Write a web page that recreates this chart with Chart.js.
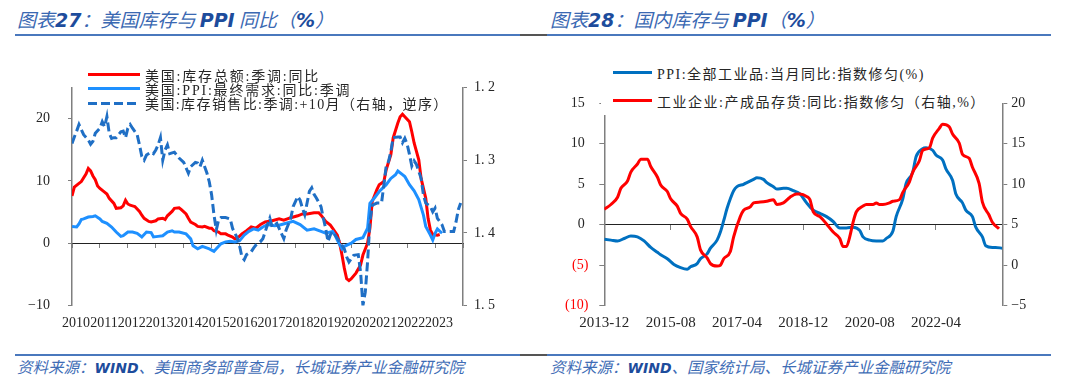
<!DOCTYPE html>
<html><head><meta charset="utf-8">
<script src="https://cdn.jsdelivr.net/npm/chart.js@4.4.0/dist/chart.umd.min.js"></script>
<style>
body{margin:0;width:1080px;height:386px;background:#fff;position:relative;overflow:hidden;font-family:"Noto Sans CJK SC",sans-serif}
.title{position:absolute;top:6px;font-size:19px;font-style:italic;color:#3a68b2;white-space:nowrap;line-height:26px}
.title b{font-family:"DejaVu Sans","Noto Sans CJK SC",sans-serif;font-weight:bold;color:#1d4c9c}
.rule{position:absolute;height:2px}
.foot{position:absolute;top:356px;font-size:15.5px;font-style:italic;color:#3f6db6;white-space:nowrap;line-height:20px}
.foot b{font-family:"DejaVu Sans","Noto Sans CJK SC",sans-serif;font-weight:bold;color:#1d4c9c;font-size:14px}
.leg{position:absolute;display:flex;align-items:center;height:16px;white-space:nowrap;font-family:"Liberation Serif","Noto Sans CJK SC",serif;font-size:14px;color:#262626}
.sw{display:inline-block;height:3px;margin-right:5px;flex:none}
.wrap{position:absolute;top:40px;width:540px;height:300px}
</style></head>
<body>
<div class="title" style="left:17px">图表<b>27</b>：美国库存与 <b>PPI</b> 同比（<b>%</b>）</div>
<div class="title" style="left:550px">图表<b>28</b>：国内库存与 <b>PPI</b>（<b>%</b>）</div>
<div class="rule" style="left:15px;top:34px;width:505px;background:#4a78bd"></div>
<div class="rule" style="left:520px;top:34px;width:27px;background:#555"></div>
<div class="rule" style="left:547px;top:34px;width:504px;background:#4a78bd"></div>

<div class="wrap" style="left:0"><canvas id="c1" width="540" height="300"></canvas></div>
<div class="wrap" style="left:540px"><canvas id="c2" width="540" height="300"></canvas></div>

<div class="leg" style="left:88px;top:66.5px"><span class="sw" style="width:52px;background:#ff0000"></span><span style="letter-spacing:1.8px">美国:库存总额:季调:同比</span></div>
<div class="leg" style="left:88px;top:80.5px"><span class="sw" style="width:52px;background:#1e90ff"></span><span style="letter-spacing:1.8px">美国:PPI:最终需求:同比:季调</span></div>
<div class="leg" style="left:88px;top:95px"><span class="sw" style="width:52px;background:repeating-linear-gradient(90deg,#1f6fc5 0 9px,transparent 9px 13px)"></span><span style="letter-spacing:1.4px">美国:库存销售比:季调:+10月（右轴，逆序）</span></div>

<div style="position:absolute;left:601px;top:58px;width:394px;height:57px;background:#fff"></div>
<div class="leg" style="left:613px;top:64.7px"><span class="sw" style="width:39px;background:#0070c0"></span><span style="letter-spacing:1.5px">PPI:全部工业品:当月同比:指数修匀(%)</span></div>
<div class="leg" style="left:613px;top:92.7px"><span class="sw" style="width:39px;background:#ff0000"></span><span style="letter-spacing:1.5px">工业企业:产成品存货:同比:指数修匀（右轴,%）</span></div>

<div class="rule" style="left:15px;top:354px;width:505px;background:#4a78bd"></div>
<div class="rule" style="left:520px;top:354px;width:27px;background:#555"></div>
<div class="rule" style="left:547px;top:354px;width:504px;background:#4a78bd"></div>
<div class="foot" style="left:17px">资料来源：<b>WIND</b>、美国商务部普查局，长城证券产业金融研究院</div>
<div class="foot" style="left:550px">资料来源：<b>WIND</b>、国家统计局、长城证券产业金融研究院</div>

<script>
// ---------- Chart 27: US inventories vs PPI ----------
const usYearLabels = ['2010','2011','2012','2013','2014','2015','2016','2017','2018','2019','2020','2021','2022','2023'];

const usInvDates = [
 '2010-01','2010-02','2010-04','2010-05','2010-07','2010-08','2010-09','2010-10','2010-11','2010-12',
 '2011-01','2011-03','2011-04','2011-05','2011-07','2011-08','2011-10','2011-11','2011-12','2012-01',
 '2012-02','2012-03','2012-04','2012-06','2012-07','2012-08','2012-10','2012-11','2013-01','2013-02',
 '2013-04','2013-05','2013-06','2013-08','2013-09','2013-11','2013-12','2014-02','2014-03','2014-04',
 '2014-06','2014-07','2014-09','2014-10','2014-12','2015-01','2015-02','2015-04','2015-05','2015-07',
 '2015-08','2015-10','2015-11','2015-12','2016-02','2016-04','2016-06','2016-08','2016-10','2016-12',
 '2017-03','2017-06','2017-08','2017-11','2018-02','2018-04','2018-06','2018-09','2018-11','2018-12',
 '2019-02','2019-04','2019-05','2019-07','2019-08','2019-09','2019-10','2019-11','2019-12','2020-01',
 '2020-03','2020-05','2020-06','2020-08','2020-09','2020-10','2020-12','2021-01','2021-03','2021-04',
 '2021-06','2021-07','2021-09','2021-10','2021-11','2021-12','2022-02','2022-03','2022-04','2022-06',
 '2022-07','2022-09','2022-10','2022-11','2022-12','2023-02','2023-03'];
const usInvYoY = [
 7.6,9.0,9.6,9.9,11.1,12.0,11.6,10.8,10.2,9.2,
 8.8,8.2,7.9,7.2,6.4,5.6,5.7,6.0,6.9,6.3,
 6.1,6.0,5.9,5.1,4.5,4.0,3.5,3.4,3.6,3.9,
 4.0,3.8,4.4,5.1,5.6,5.7,5.4,4.7,4.0,3.4,
 3.0,2.7,2.6,2.7,2.4,2.4,2.0,1.8,1.5,1.5,
 1.3,1.0,0.7,0.8,1.5,2.0,2.6,2.4,3.0,3.4,
 3.6,3.9,3.7,4.1,4.4,4.7,4.7,4.9,4.9,4.5,
 3.5,2.9,2.4,1.3,0.0,-1.9,-4.0,-5.7,-6.0,-5.7,
 -4.8,-3.5,-1.9,0.0,2.4,6.7,8.6,9.4,9.9,11.8,
 14.2,16.9,19.3,20.3,20.7,20.3,19.5,17.9,16.1,13.4,
 10.4,7.2,4.0,2.1,1.4,1.3,1.4];

const usPpiDates = [
 '2010-01','2010-03','2010-04','2010-05','2010-06','2010-08','2010-10','2010-11','2011-01','2011-02',
 '2011-04','2011-06','2011-08','2011-10','2011-11','2012-01','2012-03','2012-05','2012-06','2012-07',
 '2012-09','2012-11','2012-12','2013-02','2013-04','2013-06','2013-08','2013-09','2013-11','2014-02',
 '2014-04','2014-05','2014-07','2014-09','2014-12','2015-02','2015-03','2015-05','2015-07','2015-09',
 '2015-11','2016-01','2016-03','2016-05','2016-07','2016-09','2016-11','2017-01','2017-04','2017-06',
 '2017-09','2017-12','2018-03','2018-06','2018-09','2018-12','2019-02','2019-05','2019-06','2019-07',
 '2019-09','2019-10','2020-01','2020-03','2020-06','2020-08','2020-09','2020-11','2021-01','2021-04',
 '2021-06','2021-08','2021-09','2021-11','2021-12','2022-02','2022-04','2022-06','2022-08','2022-09',
 '2022-11','2022-12','2023-01','2023-02','2023-04'];
const usPpiYoY = [
 2.7,2.6,3.1,3.8,3.9,4.2,4.3,4.4,3.9,3.5,
 3.2,2.6,1.8,1.1,1.2,1.8,1.8,1.6,1.3,1.0,
 1.8,1.7,1.0,1.1,1.2,1.8,2.0,1.8,1.8,1.5,
 0.7,-0.4,-0.9,-0.5,-0.9,-1.3,-0.9,-0.1,0.2,0.3,
 0.2,0.4,1.3,1.9,2.3,2.1,2.6,3.0,2.8,2.9,
 3.2,3.5,3.0,2.1,2.3,1.9,1.6,1.9,1.3,0.5,
 -0.9,-0.5,0.0,0.6,0.9,2.4,6.4,7.3,8.3,9.4,
 10.4,11.0,11.6,11.0,10.7,9.4,8.4,7.0,4.5,2.7,
 1.3,0.5,1.6,2.3,1.6];

const usRatioDates = [
 '2010-01','2010-02','2010-03','2010-04','2010-05','2010-06','2010-08','2010-09','2010-10','2010-11',
 '2011-01','2011-02','2011-03','2011-04','2011-05','2011-06','2011-07','2011-08','2011-10','2011-11',
 '2011-12','2012-01','2012-02','2012-03','2012-05','2012-06','2012-07','2012-08','2012-09','2012-11',
 '2012-12','2013-01','2013-02','2013-03','2013-04','2013-05','2013-06','2013-07','2013-09','2013-10',
 '2013-11','2014-01','2014-03','2014-04','2014-06','2014-07','2014-08','2014-09','2014-10','2014-11',
 '2014-12','2015-01','2015-02','2015-03','2015-04','2015-05','2015-07','2015-09','2015-10','2015-12',
 '2016-01','2016-02','2016-03','2016-04','2016-06','2016-07','2016-08','2016-10','2016-11','2017-01',
 '2017-02','2017-03','2017-05','2017-06','2017-08','2017-09','2017-11','2017-12','2018-02','2018-03',
 '2018-04','2018-05','2018-06','2018-07','2018-08','2018-09','2018-10','2018-12','2019-01','2019-02',
 '2019-03','2019-04','2019-05','2019-06','2019-08','2019-10','2019-11','2019-12','2020-02','2020-04',
 '2020-05','2020-06','2020-07','2020-08','2020-09','2020-10','2020-12','2021-02','2021-03','2021-04',
 '2021-05','2021-06','2021-07','2021-09','2021-10','2021-11','2021-12','2022-01','2022-02','2022-03',
 '2022-04','2022-05','2022-07','2022-08','2022-09','2022-11','2022-12','2023-01','2023-02','2023-04',
 '2023-05','2023-07','2023-09','2023-10','2023-11','2023-12'];
const usRatio = [
 1.277,1.268,1.260,1.251,1.258,1.265,1.272,1.278,1.274,1.263,
 1.256,1.247,1.254,1.240,1.263,1.270,1.269,1.269,1.261,1.260,
 1.269,1.256,1.251,1.256,1.265,1.279,1.295,1.300,1.293,1.289,
 1.291,1.286,1.279,1.269,1.300,1.286,1.279,1.291,1.289,1.293,
 1.297,1.303,1.318,1.309,1.303,1.304,1.309,1.300,1.309,1.318,
 1.330,1.348,1.375,1.396,1.382,1.379,1.379,1.381,1.394,1.407,
 1.418,1.433,1.437,1.430,1.426,1.421,1.417,1.412,1.408,1.389,
 1.380,1.392,1.387,1.394,1.408,1.396,1.380,1.364,1.350,1.355,
 1.366,1.375,1.359,1.343,1.338,1.347,1.352,1.364,1.380,1.394,
 1.412,1.403,1.398,1.403,1.412,1.422,1.433,1.440,1.431,1.430,
 1.454,1.500,1.482,1.440,1.385,1.362,1.359,1.359,1.334,1.308,
 1.302,1.288,1.269,1.268,1.268,1.276,1.270,1.278,1.292,1.308,
 1.301,1.306,1.325,1.348,1.359,1.364,1.371,1.366,1.380,1.389,
 1.398,1.398,1.398,1.385,1.368,1.359];

// ---------- Chart 28: China inventories vs PPI ----------
const cnTickLabels = ['2013-12','2015-08','2017-04','2018-12','2020-08','2022-04'];

const cnPpiDates = [
 '2013-12','2014-02','2014-04','2014-06','2014-08','2014-10','2014-12','2015-02','2015-04','2015-05',
 '2015-07','2015-09','2015-11','2016-01','2016-02','2016-04','2016-05','2016-07','2016-08','2016-10',
 '2016-11','2016-12','2017-01','2017-02','2017-03','2017-04','2017-06','2017-07','2017-09','2017-10',
 '2017-12','2018-01','2018-03','2018-04','2018-06','2018-07','2018-09','2018-11','2019-01','2019-03',
 '2019-05','2019-07','2019-09','2019-11','2020-01','2020-03','2020-05','2020-06','2020-08','2020-10',
 '2020-12','2021-01','2021-03','2021-04','2021-06','2021-07','2021-09','2021-10','2021-12','2022-01',
 '2022-03','2022-04','2022-06','2022-07','2022-09','2022-10','2022-12','2023-01','2023-03','2023-04',
 '2023-06','2023-07','2023-09','2023-10','2023-12'];
const cnPpi = [
 -1.8,-1.9,-2.0,-1.7,-1.4,-1.5,-2.0,-2.8,-3.4,-3.7,
 -4.2,-4.9,-5.3,-5.5,-5.2,-4.8,-4.2,-3.6,-2.9,-1.9,
 -0.9,0.5,2.0,3.2,4.2,4.7,5.0,5.2,5.6,5.8,
 5.6,5.2,4.7,4.4,4.5,4.5,4.2,3.8,2.7,1.8,
 1.4,1.0,0.4,-0.4,-0.4,-0.3,-0.7,-1.5,-1.9,-2.0,
 -2.0,-1.7,-0.8,1.0,3.2,5.1,6.5,8.4,9.4,9.5,
 9.2,8.6,8.0,6.9,5.5,3.8,2.7,1.8,1.0,-0.3,
 -1.5,-2.6,-2.8,-2.8,-2.9];

const cnInvDates = [
 '2013-12','2014-02','2014-04','2014-05','2014-07','2014-08','2014-10','2014-11','2015-01','2015-02',
 '2015-04','2015-05','2015-07','2015-08','2015-10','2015-11','2016-01','2016-02','2016-04','2016-05',
 '2016-07','2016-08','2016-10','2016-11','2016-12','2017-02','2017-03','2017-05','2017-06','2017-08',
 '2017-09','2017-11','2018-01','2018-03','2018-04','2018-06','2018-08','2018-10','2018-11','2019-01',
 '2019-02','2019-03','2019-05','2019-07','2019-09','2019-11','2019-12','2020-01','2020-02','2020-03',
 '2020-04','2020-06','2020-07','2020-09','2020-10','2020-11','2020-12','2021-02','2021-03','2021-05',
 '2021-06','2021-08','2021-09','2021-11','2021-12','2022-02','2022-03','2022-05','2022-06','2022-08',
 '2022-09','2022-11','2022-12','2023-02','2023-03','2023-05','2023-06','2023-08','2023-09','2023-11'];
const cnInv = [
 6.9,7.5,8.4,9.5,10.4,11.5,12.5,13.1,13.1,12.2,
 10.9,9.9,9.1,8.2,7.3,6.4,5.7,4.8,3.5,1.9,
 0.9,0.2,-0.1,0.0,0.8,1.7,3.5,6.0,6.8,7.2,
 7.7,7.8,7.9,8.1,7.5,7.7,8.4,8.8,8.8,8.5,
 8.1,6.6,6.0,5.1,4.1,3.3,2.3,2.3,3.5,5.3,
 6.6,7.3,7.5,7.5,7.7,7.5,7.5,7.7,7.9,8.1,
 9.0,10.3,11.5,12.9,14.2,14.5,15.7,16.9,17.4,17.1,
 16.2,15.1,13.7,13.2,12.1,10.1,7.8,6.2,5.3,4.5];

// ---------- helpers ----------
const monthIndex = (s, y0, m0) => { const p = s.split('-').map(Number); return (p[0] - y0) * 12 + (p[1] - m0); };
const pts = (dates, vals, y0, m0) => dates.map((d, i) => ({x: monthIndex(d, y0, m0), y: vals[i]}));
const setTicks = arr => s => { s.ticks = arr.map(v => ({value: v})); };
const serif = "'Liberation Serif','Times New Roman',serif";
const tickFont = {family: serif, size: 14};
const axisGray = '#7f7f7f';
const txt = '#262626';

const usXTicks = Array.from({length: 15}, (_, i) => i * 12);
const cnXTicks = Array.from({length: 7}, (_, i) => i * 20);

new Chart(document.getElementById('c1'), {
  type: 'line',
  data: {datasets: [
    {label: '美国:库存总额:季调:同比', data: pts(usInvDates, usInvYoY, 2010, 1), xAxisID: 'x', yAxisID: 'y',
     borderColor: '#ff0000', borderWidth: 3, pointRadius: 0, tension: 0, order: 3},
    {label: '美国:PPI:最终需求:同比:季调', data: pts(usPpiDates, usPpiYoY, 2010, 1), xAxisID: 'x', yAxisID: 'y',
     borderColor: '#1e90ff', borderWidth: 3, pointRadius: 0, tension: 0, order: 2},
    {label: '美国:库存销售比:季调:+10月（右轴，逆序）', data: pts(usRatioDates, usRatio, 2010, 1), xAxisID: 'x', yAxisID: 'y1',
     borderColor: '#1f6fc5', borderWidth: 3, borderDash: [9, 4], pointRadius: 0, tension: 0, order: 1}
  ]},
  options: {
    responsive: false, animation: false, events: [],
    layout: {padding: {top: 47.5, left: 0, right: 0, bottom: 0}},
    plugins: {legend: {display: false}, tooltip: {enabled: false}},
    scales: {
      x: {type: 'linear', position: 'bottom', min: 0, max: 168, afterBuildTicks: setTicks(usXTicks),
          ticks: {font: tickFont, color: txt, padding: 9, maxRotation: 0, autoSkip: false, labelOffset: 4,
                  callback: v => usYearLabels[v / 12] || ''},
          grid: {display: false, drawTicks: false}, border: {display: false},
          afterFit: s => { s.height = 34.5; }},
      x2: {type: 'linear', axis: 'x', position: {y: 0}, min: 0, max: 168, afterBuildTicks: setTicks(usXTicks),
          ticks: {display: false},
          grid: {drawOnChartArea: false, drawTicks: true, tickLength: 4, color: axisGray},
          border: {display: true, color: '#222', width: 1}},
      y: {position: 'left', min: -10, max: 25, afterBuildTicks: setTicks([-10, 0, 10, 20]),
          ticks: {font: tickFont, color: txt, padding: 18, callback: v => v < 0 ? '\u2212' + (-v) : String(v)},
          grid: {drawOnChartArea: false, drawTicks: true, tickLength: 4, color: axisGray},
          border: {color: axisGray, width: 1.5},
          afterFit: s => { s.width = 72; }},
      y1: {position: 'right', min: 1.2, max: 1.5, reverse: true, afterBuildTicks: setTicks([1.2, 1.3, 1.4, 1.5]),
          ticks: {font: tickFont, color: txt, padding: 7, callback: v => v.toFixed(1).replace('.', '. ')},
          grid: {drawOnChartArea: false, drawTicks: true, tickLength: 4, color: axisGray},
          border: {color: axisGray, width: 1.5},
          afterFit: s => { s.width = 77; }}
    }
  }
});

new Chart(document.getElementById('c2'), {
  type: 'line',
  data: {datasets: [
    {label: 'PPI:全部工业品:当月同比:指数修匀(%)', data: pts(cnPpiDates, cnPpi, 2013, 12), xAxisID: 'x', yAxisID: 'y',
     borderColor: '#0070c0', borderWidth: 3, pointRadius: 0, cubicInterpolationMode: 'monotone', order: 2},
    {label: '工业企业:产成品存货:同比:指数修匀（右轴,%）', data: pts(cnInvDates, cnInv, 2013, 12), xAxisID: 'x', yAxisID: 'y1',
     borderColor: '#ff0000', borderWidth: 3, pointRadius: 0, cubicInterpolationMode: 'monotone', order: 1}
  ]},
  options: {
    responsive: false, animation: false, events: [],
    layout: {padding: {top: 63.3, left: 0, right: 0, bottom: 0}},
    plugins: {legend: {display: false}, tooltip: {enabled: false}},
    scales: {
      x: {type: 'linear', position: 'bottom', min: 0, max: 120, afterBuildTicks: setTicks(cnXTicks),
          ticks: {font: {family: serif, size: 15}, color: txt, padding: 8, maxRotation: 0, autoSkip: false,
                  callback: v => cnTickLabels[v / 20] || ''},
          grid: {display: false, drawTicks: false}, border: {display: false},
          afterFit: s => { s.height = 34.3; }},
      x2: {type: 'linear', axis: 'x', position: {y: 0}, min: 0, max: 120, afterBuildTicks: setTicks(cnXTicks),
          ticks: {display: false},
          grid: {drawOnChartArea: false, drawTicks: true, tickLength: 5, color: axisGray},
          border: {display: true, color: '#222', width: 1}},
      y: {position: 'left', min: -10, max: 15, afterBuildTicks: setTicks([-10, -5, 0, 5, 10, 15]),
          ticks: {font: tickFont, padding: 11, color: c => c.tick && c.tick.value < 0 ? '#ff0000' : txt,
                  callback: v => v < 0 ? '(' + (-v) + ')' : v + ' '},
          grid: {drawOnChartArea: false, drawTicks: true, tickLength: 5, color: axisGray},
          border: {color: axisGray, width: 1.5},
          afterFit: s => { s.width = 64.3; }},
      y1: {position: 'right', min: -5, max: 20, afterBuildTicks: setTicks([-5, 0, 5, 10, 15, 20]),
          ticks: {font: tickFont, color: txt, padding: 4, callback: v => v < 0 ? '\u2212' + (-v) : String(v)},
          grid: {drawOnChartArea: false, drawTicks: true, tickLength: 5, color: axisGray},
          border: {color: axisGray, width: 1.5},
          afterFit: s => { s.width = 77.7; }}
    }
  }
});
</script>
</body></html>
